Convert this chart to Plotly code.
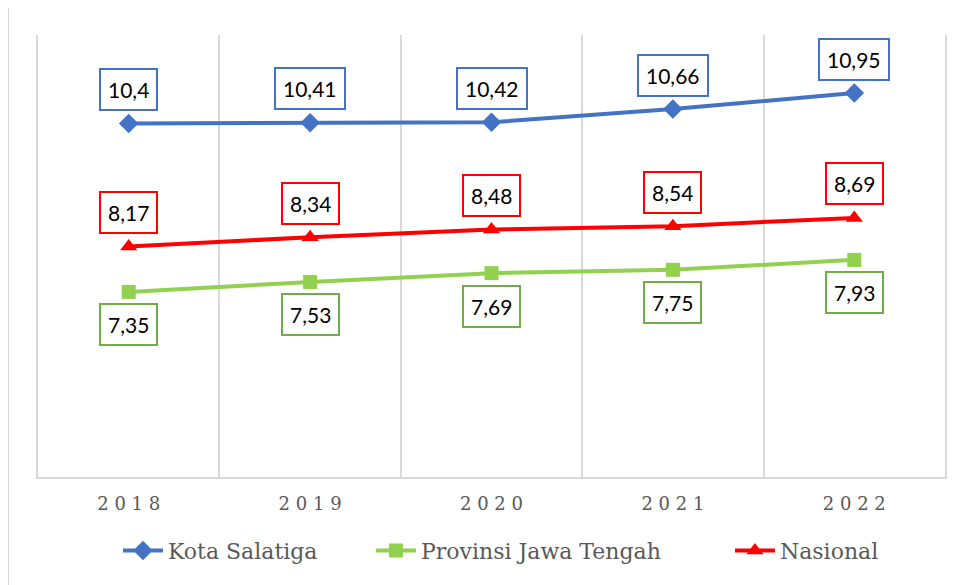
import plotly.graph_objects as go

years = ["2018", "2019", "2020", "2021", "2022"]
tick_text = ["2 0 1 8", "2 0 1 9", "2 0 2 0", "2 0 2 1", "2 0 2 2"]
salatiga = [10.40, 10.41, 10.42, 10.66, 10.95]
jateng = [7.35, 7.53, 7.69, 7.75, 7.93]
nasional = [8.17, 8.34, 8.48, 8.54, 8.69]

def fmt(v):
    s = ("%.2f" % v).rstrip("0").rstrip(".")
    return s.replace(".", ",")

series = [
    ("Kota Salatiga", salatiga, "#4472C4", "#4472C4", "diamond", 15, 34, "legend", 0.0882),
    ("Provinsi Jawa Tengah", jateng, "#92D050", "#70AD47", "square", 14, -33, "legend2", 0.3671),
    ("Nasional", nasional, "#FF0000", "#FF0000", "triangle-up", 15, 34, "legend3", 0.7629),
]

fig = go.Figure()
annotations = []
legends = {}
for name, vals, color, bcolor, sym, msize, shift, lg, lx in series:
    fig.add_trace(go.Scatter(
        x=years, y=vals, name=name, mode="lines+markers",
        line=dict(color=color, width=4),
        marker=dict(symbol=sym, size=msize, color=color),
        legend=lg,
    ))
    legends[lg] = dict(orientation="h", x=lx, xanchor="left", y=-0.167, yanchor="middle",
                       font=dict(family="DejaVu Serif", size=22, color="#595959"),
                       itemwidth=40, bgcolor="rgba(0,0,0,0)")
    for i, v in enumerate(vals):
        annotations.append(dict(
            x=i, y=v, xref="x", yref="y", text=fmt(v), showarrow=False,
            yshift=shift, bgcolor="white", bordercolor=bcolor, borderwidth=2,
            borderpad=7, font=dict(family="Lato", size=21, color="black"),
        ))

fig.update_layout(
    width=965, height=585,
    margin=dict(l=30, r=28, t=27, b=116),
    paper_bgcolor="white", plot_bgcolor="white",
    showlegend=True,
    annotations=annotations,
    shapes=[dict(type="rect", xref="paper", yref="paper", x0=-0.033, x1=1.05,
                 y0=-0.3, y1=1.068, line=dict(color="#D9D9D9", width=2),
                 fillcolor="rgba(0,0,0,0)", layer="below")],
    **legends,
)
fig.update_xaxes(
    type="category", tickson="boundaries", tickvals=years, ticktext=tick_text,
    showgrid=True, gridcolor="#D9D9D9", gridwidth=2,
    showline=True, linecolor="#D9D9D9", linewidth=2, ticks="",
    ticklabelstandoff=9,
    tickfont=dict(family="DejaVu Serif", size=18, color="#595959"),
    range=[-0.5, 4.5],
)
fig.update_yaxes(
    range=[4, 12], showgrid=False, showticklabels=False, zeroline=False,
    showline=True, mirror=True, linecolor="#D9D9D9", linewidth=2, ticks="",
)
fig.write_html("out.html")
